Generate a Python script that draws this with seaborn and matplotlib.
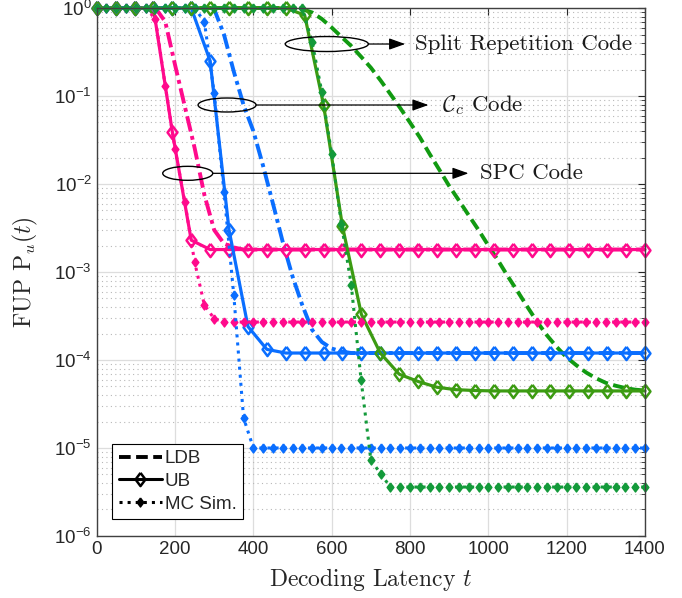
import numpy as np
import matplotlib
matplotlib.use("Agg")
import matplotlib.pyplot as plt
import matplotlib.patches as mpatches
from matplotlib.lines import Line2D
from matplotlib.ticker import LogLocator, NullFormatter, NullLocator, MultipleLocator
import seaborn as sns

# sampling grids (UB markers are ~48 apart, MC / LDB points every 25)
t_ub = np.linspace(0, 1400, 30)
t_mc = np.linspace(0, 1400, 57)

# SPC code (pink)
spc_ldb = [1] * 7 + [0.7, 0.226, 0.076, 0.0257, 7.5e-3, 3.0e-3, 2.1e-3, 1.9e-3] + [1.8e-3] * 42
spc_ub = [1] * 4 + [0.039, 2.3e-3] + [1.8e-3] * 24
spc_mc = [1] * 6 + [0.75, 0.13, 0.025, 6.3e-3, 1.3e-3, 4.2e-4, 2.95e-4] + [2.7e-4] * 44

# C_c code (blue)
cc_ldb = [1] * 12 + [0.97, 0.5, 0.19, 0.079, 0.04, 0.016, 6.0e-3, 2.2e-3, 8.9e-4,
                     4.2e-4, 2.2e-4, 1.6e-4, 1.35e-4, 1.25e-4] + [1.2e-4] * 31
cc_ub = [1] * 6 + [0.25, 3.0e-3, 2.4e-4, 1.32e-4] + [1.2e-4] * 20
cc_mc = [1] * 11 + [0.7, 0.107, 8.1e-3, 5.5e-4, 2.2e-5] + [1.0e-5] * 41

# split repetition code (green)
sr_ldb = [1] * 21 + [0.97, 0.89, 0.75, 0.6, 0.47, 0.37, 0.28, 0.21, 0.15, 0.105, 0.073,
                     0.05, 0.034, 0.022, 0.0145, 9.5e-3, 6.5e-3, 4.4e-3, 3.0e-3, 2.0e-3,
                     1.35e-3, 8.9e-4, 6.0e-4, 4.0e-4, 2.7e-4, 1.9e-4, 1.4e-4, 1.07e-4,
                     8.7e-5, 7.2e-5, 6.2e-5, 5.5e-5, 5.1e-5, 4.8e-5, 4.6e-5, 4.5e-5]
sr_ub = [1] * 11 + [0.83, 0.079, 3.3e-3, 3.3e-4, 1.2e-4, 6.9e-5, 5.7e-5, 4.9e-5,
                    4.6e-5, 4.5e-5] + [4.45e-5] * 9
sr_mc = [1] * 22 + [0.41, 0.11, 0.022, 3.5e-3, 7.1e-4, 6.0e-5, 7.3e-6, 5.1e-6] + [3.6e-6] * 27

pink = '#ff0a8c'
blue = '#0a6eff'
green_ub = '#3c9b12'
green_mc = '#139a3a'
green_ldb = '#119a11'

sns.set_style('white')
plt.rcParams['font.family'] = ['Liberation Sans', 'DejaVu Sans']
plt.rcParams['mathtext.fontset'] = 'cm'

diamond = [(0, 1), (0.75, 0), (0, -1), (-0.75, 0), (0, 1)]

fig = plt.figure(figsize=(6.82, 5.98), dpi=100)
ax = fig.add_axes([0.1418, 0.1037, 0.8039, 0.8829])

dashdot = (0, (4, 1.2, 1, 1.2))
dashed = (0, (3, 1.4))

# lower bounds
sns.lineplot(x=t_mc, y=spc_ldb, ax=ax, color=pink, linewidth=2.8, linestyle=dashdot,
             estimator=None, sort=False, clip_on=False)
sns.lineplot(x=t_mc, y=cc_ldb, ax=ax, color=blue, linewidth=2.8, linestyle=dashdot,
             estimator=None, sort=False, clip_on=False)
sns.lineplot(x=t_mc, y=sr_ldb, ax=ax, color=green_ldb, linewidth=2.8, linestyle=dashed,
             estimator=None, sort=False, clip_on=False)

# upper bounds
for vals, c in [(spc_ub, pink), (cc_ub, blue), (sr_ub, green_ub)]:
    sns.lineplot(x=t_ub, y=vals, ax=ax, color=c, linewidth=2.3, linestyle='-',
                 marker=diamond, markersize=9.5, markerfacecolor='none',
                 markeredgecolor=c, markeredgewidth=1.8,
                 estimator=None, sort=False, clip_on=False)

# Monte Carlo simulation
for vals, c in [(spc_mc, pink), (cc_mc, blue), (sr_mc, green_mc)]:
    sns.lineplot(x=t_mc, y=vals, ax=ax, color=c, linewidth=2.2, linestyle=':',
                 marker=diamond, markersize=6.5, markerfacecolor=c,
                 markeredgecolor=c, markeredgewidth=1,
                 estimator=None, sort=False, clip_on=False)

ax.set_yscale('log')
ax.set_ylim(1e-6, 1)
ax.set_xlim(0, 1400)
ax.xaxis.set_major_locator(MultipleLocator(200))
ax.xaxis.set_minor_locator(NullLocator())
ax.yaxis.set_major_locator(LogLocator(base=10, numticks=20))
ax.yaxis.set_minor_locator(LogLocator(base=10, subs=np.arange(2, 10), numticks=20))
ax.yaxis.set_minor_formatter(NullFormatter())

ax.set_axisbelow(True)
ax.grid(which='major', color='#dddddd', linewidth=0.9, linestyle='-')
ax.grid(which='minor', axis='y', color='#b8b8b8', linewidth=0.8, linestyle=(0, (1, 3)))

ax.tick_params(which='both', direction='in', top=True, right=True, colors='#262626',
               labelsize=13.5)
ax.tick_params(which='major', length=5, width=0.8)
ax.tick_params(which='minor', length=3, width=0.6)
for s in ax.spines.values():
    s.set_color('#404040')
    s.set_linewidth(1.0)

ax.set_xlabel('Decoding Latency $t$', fontfamily='cmr10', fontsize=17, color='#262626',
              labelpad=6)
ax.set_ylabel('FUP $\\mathrm{P}_u(t)$', fontfamily='cmr10', fontsize=17, color='#262626',
              labelpad=10)

# annotations: ellipse + arrow + text
notes = [
    ((0.4197, 0.9318), 0.1515, 0.0284, 0.4956, 0.5626, 'Split Repetition Code', 0.5812),
    ((0.2378, 0.8163), 0.1058, 0.0265, 0.2907, 0.6051, '$\\mathcal{C}_c$ Code', 0.6296),
    ((0.1660, 0.6869), 0.0912, 0.0265, 0.2117, 0.6781, 'SPC Code', 0.6995),
]
for (cx, cy), w, h, x0, x1, label, xt in notes:
    ax.add_patch(mpatches.Ellipse((cx, cy), w, h, transform=ax.transAxes, fill=False,
                                  edgecolor='k', linewidth=1.0, zorder=5))
    ax.annotate('', xy=(x1, cy), xytext=(x0, cy), xycoords='axes fraction',
                arrowprops=dict(arrowstyle='-|>,head_length=0.7,head_width=0.25',
                                color='k', lw=0.9, shrinkA=0, shrinkB=0,
                                mutation_scale=14), zorder=5)
    ax.text(xt, cy, label, transform=ax.transAxes, ha='left', va='center',
            fontfamily='cmr10', fontsize=16.5, color='#1a1a1a', zorder=5)

handles = [
    Line2D([], [], color='k', linewidth=2.8, linestyle=dashed),
    Line2D([], [], color='k', linewidth=2.2, marker=diamond, markersize=9.5,
           markerfacecolor='none', markeredgewidth=1.8),
    Line2D([], [], color='k', linewidth=2.2, linestyle=':', marker=diamond,
           markersize=6.5, markerfacecolor='k'),
]
leg = ax.legend(handles, ['LDB', 'UB', 'MC Sim.'], loc='lower left',
                bbox_to_anchor=(0.0285, 0.0316), borderaxespad=0, frameon=True,
                fancybox=False, edgecolor='k', framealpha=1, fontsize=13.5,
                handlelength=2.3, handletextpad=0.15, borderpad=0.35, labelspacing=0.3)
leg.get_frame().set_linewidth(0.8)

fig.savefig('out.png', dpi=100)
